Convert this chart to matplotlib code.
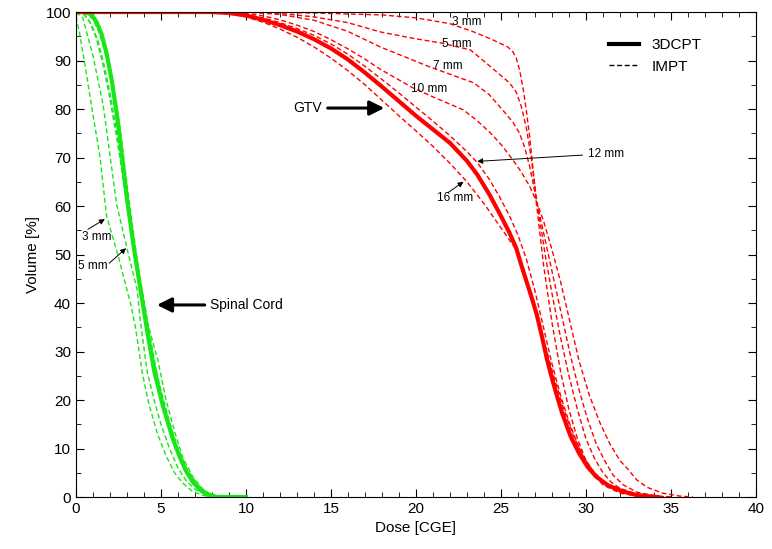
import matplotlib
matplotlib.use("Agg")
from matplotlib import pyplot as plt
from matplotlib.ticker import MultipleLocator

plt.rcParams['font.family'] = ['Liberation Sans', 'DejaVu Sans']

RED = '#ff0000'
GREEN = '#19e619'

# GTV, 3DCPT (solid)
gtv_dose = [0, 8, 9, 10, 11, 12, 13, 14, 15, 16, 17, 18, 19, 20, 21, 22, 23, 23.6,
            24.3, 24.9, 25.5, 25.9, 26.2, 26.5, 26.8, 27.1, 27.4, 27.7, 28, 28.3,
            28.6, 29.1, 29.6, 30.1, 30.6, 31.3, 32.2, 33, 34.2]
gtv_vol = [100, 100, 99.8, 99.3, 98.4, 97.3, 96, 94.4, 92.5, 90.2, 87.5, 84.6, 81.6,
           78.6, 75.8, 73, 69.3, 66.5, 62.5, 58.6, 54.5, 51.3, 47.8, 44.5, 41.2,
           37.7, 33.3, 28.5, 24.5, 20.8, 17.3, 12.5, 9, 6.2, 4.2, 2.4, 1.1, 0.4, 0]

# GTV, IMPT (dashed), by margin
gtv_impt = {
    '3 mm': ([0, 10, 12, 14, 16, 18, 20, 22, 23.4, 24.5, 25.4, 25.7, 25.9, 26.1,
              26.3, 26.5, 26.7, 27.1, 27.5, 28, 28.5, 29, 29.5, 30, 30.5, 31, 32,
              33, 34],
             [100, 100, 99.9, 99.8, 99.6, 99.4, 98.8, 97.6, 95.9, 94.3, 92.8, 91.8,
              90.5, 88, 84.3, 79.5, 74, 60.2, 48, 36, 26, 18, 12, 7.5, 4.5, 2.5,
              0.8, 0.2, 0]),
    '5 mm': ([0, 10, 12, 14, 16, 17.9, 19.8, 21.5, 23.2, 24.4, 25.5, 25.9, 26.2,
              26.5, 26.8, 27.1, 27.6, 28, 28.5, 29, 29.5, 30, 30.5, 31, 31.5, 32,
              33, 34, 35],
             [100, 100, 99.7, 99, 97.8, 95.9, 94.6, 93.6, 92.2, 88.7, 85.4, 83.5,
              80.5, 76, 69.5, 61.2, 50, 42, 33, 25, 18, 12, 8, 5, 3, 1.8, 0.6, 0.1,
              0]),
    '7 mm': ([0, 10, 12, 14, 16, 17.9, 20.8, 23.4, 24.3, 25.1, 25.7, 26.1, 26.4,
              26.7, 27.1, 27.6, 28.1, 28.6, 29.1, 29.6, 30.1, 30.6, 31.1, 31.6,
              32.2, 33, 34, 35],
             [100, 100, 99.5, 98.3, 96, 92.8, 88.7, 85.4, 83, 79.8, 77.3, 75, 72,
              68, 61, 53, 45, 37, 29, 22, 16, 11, 7.5, 4.5, 2.5, 1, 0.3, 0]),
    '10 mm': ([0, 10, 11, 12, 13, 14, 15, 16, 17, 17.9, 19, 19.8, 21, 22, 22.8,
               23.6, 24.4, 25.1, 25.7, 26.2, 26.7, 27.1, 27.5, 28, 28.5, 29, 29.6,
               30.2, 30.8, 31.4, 32, 32.4, 33, 33.6, 34.5, 35.5, 36.3],
              [100, 99.8, 99.2, 98.4, 97.3, 96, 94.3, 92.4, 90.3, 88.2, 86, 84.4,
               82.5, 81, 79.8, 77.6, 75, 72.3, 69.5, 67, 64, 60.8, 57, 51, 44.5,
               37, 28, 21, 15.5, 11, 7.5, 6, 3.5, 2, 0.8, 0.2, 0]),
    '12 mm': ([0, 8, 9, 10, 11, 12, 13, 14, 15, 16, 17, 18, 19, 20, 21, 22, 23,
               23.6, 24.3, 24.9, 25.5, 26, 26.5, 27, 27.5, 28, 28.5, 29, 29.5, 30,
               30.5, 31, 31.6, 32.4, 33.2, 34.2],
              [100, 100, 99.9, 99.5, 98.8, 97.8, 96.6, 95.2, 93.4, 91.3, 88.8, 86.1,
               83.3, 80.4, 77.5, 74.5, 71.2, 69, 65.6, 62, 58, 54, 49, 42.5, 35,
               27.5, 21, 15.5, 11, 7.5, 5, 3.2, 1.8, 0.8, 0.3, 0]),
    '16 mm': ([0, 8, 9, 10, 11, 12, 13, 14, 15, 16, 17, 18, 19, 20, 21, 22, 23, 24,
               25, 25.5, 25.9, 26.3, 26.9, 27.5, 28.1, 28.7, 29.3, 29.9, 30.5, 31.2,
               32, 33, 34],
              [100, 100, 99.7, 99, 97.9, 96.5, 94.8, 92.8, 90.5, 87.9, 85, 81.8,
               78.6, 75.5, 72.3, 68.8, 65, 60.5, 55.5, 53, 51, 47, 40, 32.5, 25, 18,
               12.3, 8, 5, 2.7, 1.2, 0.3, 0]),
}

# Spinal cord, 3DCPT (solid)
cord_dose = [0, 0.5, 0.9, 1.2, 1.5, 1.8, 2.1, 2.4, 2.7, 3.0, 3.4, 3.8, 4.2, 4.6,
             5.1, 5.7, 6.1, 6.5, 6.9, 7.3, 7.8, 8.3, 10]
cord_vol = [100, 100, 99.5, 98, 95.5, 91.5, 86, 79, 70.5, 61.5, 51.5, 42.7, 34,
            26, 19, 12, 8.3, 5.2, 3, 1.5, 0.5, 0, 0]

# Spinal cord, IMPT (dashed)
cord_impt = {
    '3 mm': ([0, 0.2, 0.6, 1.0, 1.4, 1.8, 2.5, 3.2, 3.5, 3.9, 4.3, 4.8, 5.3, 5.8,
              6.3, 6.8, 7.4, 8.0],
             [99, 95.9, 87.6, 78.8, 70.5, 58, 49.5, 40, 35, 25.6, 19, 13, 8.5, 5,
              2.8, 1.3, 0.4, 0]),
    '5 mm': ([0, 0.4, 1.0, 1.6, 2.0, 2.4, 3.0, 3.6, 3.8, 4.2, 4.6, 5.0, 5.5, 6.0,
              6.5, 7.0, 7.6, 8.2],
             [100, 98.8, 91, 80.8, 70.5, 60.2, 51.3, 42.7, 35.9, 25.6, 20, 15, 10, 6,
              3.3, 1.6, 0.5, 0]),
    '7 mm': ([0, 0.4, 0.8, 1.2, 1.6, 2.0, 2.4, 2.8, 3.2, 3.6, 4.0, 4.4, 4.8, 5.2,
              5.7, 6.2, 6.8, 7.4, 8.0],
             [100, 99.8, 98, 94.6, 89, 82, 74, 65, 56, 47, 38, 30, 23, 17, 11.5, 7,
              3.5, 1.2, 0]),
    '10 mm': ([0, 0.6, 1.0, 1.4, 1.8, 2.2, 2.6, 3.0, 3.4, 3.8, 4.2, 4.8, 5.3, 5.8,
               6.3, 6.9, 7.5, 8.2],
              [100, 100, 99, 96.5, 92, 85, 76, 64.5, 54, 44, 36, 28.5, 20, 13.5, 8,
               4, 1.5, 0]),
    '12 mm': ([0, 0.5, 1.0, 1.4, 1.8, 2.2, 2.6, 3.0, 3.4, 3.8, 4.2, 4.6, 5.0, 5.5,
               6.0, 6.6, 7.2, 7.8],
              [100, 100, 98.5, 95.5, 90.5, 84, 74, 63, 53, 44.5, 36.5, 28.5, 21,
               14.5, 9, 4.5, 1.8, 0]),
    '16 mm': ([0, 0.5, 0.9, 1.3, 1.7, 2.1, 2.5, 2.9, 3.3, 3.7, 4.1, 4.5, 5.0, 5.5,
               6.0, 6.5, 7.1, 7.7, 8.4],
              [100, 99.5, 97.5, 94, 88.5, 81.5, 73, 63, 54, 45, 37, 29.5, 22, 15.5,
               10, 6, 2.8, 0.8, 0]),
}

fig = plt.figure(figsize=(7.72, 5.49), dpi=100)
ax = fig.add_axes([0.0984, 0.0947, 0.8808, 0.8834])

dash = (0, (3.5, 2))
for name, (d, v) in cord_impt.items():
    ax.plot(d, v, color=GREEN, lw=1.0, linestyle=dash)
ax.plot(cord_dose, cord_vol, color=GREEN, lw=3)

for name, (d, v) in gtv_impt.items():
    ax.plot(d, v, color=RED, lw=1.0, linestyle=dash)
ax.plot(gtv_dose, gtv_vol, color=RED, lw=3)

# legend handles
ax.plot([], [], color='black', lw=3, label='3DCPT')
ax.plot([], [], color='black', lw=1, linestyle=dash, label='IMPT')
ax.legend(loc='upper right', bbox_to_anchor=(0.94, 0.975), frameon=False,
          fontsize=11, handlelength=2.0, labelspacing=0.5)

ax.set_xlim(0, 40)
ax.set_ylim(0, 100)
ax.xaxis.set_major_locator(MultipleLocator(5))
ax.xaxis.set_minor_locator(MultipleLocator(1))
ax.yaxis.set_major_locator(MultipleLocator(10))
ax.yaxis.set_minor_locator(MultipleLocator(5))
ax.tick_params(which='both', direction='in', top=True, right=True, labelsize=11)
ax.tick_params(which='major', length=6)
ax.tick_params(which='minor', length=3.5)
ax.set_xlabel('Dose [CGE]', fontsize=11)
ax.set_ylabel('Volume [%]', fontsize=11)

# big arrows
big = dict(arrowstyle='-|>', color='black', lw=2.2, mutation_scale=22)
ax.annotate('GTV', xy=(18.3, 80.2), xytext=(12.8, 80.2), arrowprops=big,
            fontsize=10, va='center', ha='left')
ax.annotate('Spinal Cord', xy=(4.6, 39.6), xytext=(7.9, 39.6), arrowprops=big,
            fontsize=10, va='center', ha='left')

# labels on the dashed curves
small = dict(arrowstyle='-|>', color='black', lw=0.7, mutation_scale=8,
             shrinkA=0, shrinkB=0)


def label_arrow(text, tip, tail, pos):
    ax.annotate('', xy=tip, xytext=tail, arrowprops=small)
    ax.text(pos[0], pos[1], text, fontsize=8.5, ha='center', va='center')


label_arrow('3 mm', (1.7, 57.3), (0.7, 55.2), (1.2, 53.6))
label_arrow('5 mm', (2.95, 51.3), (1.95, 48.2), (1.0, 47.6))
label_arrow('12 mm', (23.6, 69.2), (29.8, 70.5), (31.2, 70.7))
label_arrow('16 mm', (22.8, 65.0), (21.9, 62.8), (22.3, 61.6))
ax.text(23.0, 97.9, '3 mm', fontsize=8.5, ha='center', va='center')
ax.text(22.4, 93.4, '5 mm', fontsize=8.5, ha='center', va='center')
ax.text(21.9, 88.9, '7 mm', fontsize=8.5, ha='center', va='center')
ax.text(20.8, 84.1, '10 mm', fontsize=8.5, ha='center', va='center')

fig.savefig('out.png', dpi=100)
